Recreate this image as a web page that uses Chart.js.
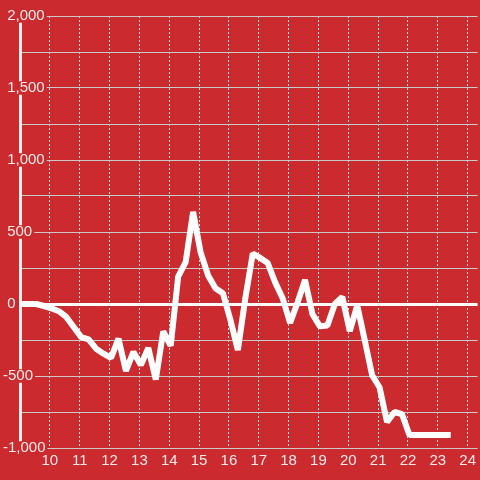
<!DOCTYPE html>
<html>
<head>
<meta charset="utf-8">
<script src="https://cdn.jsdelivr.net/npm/chart.js@4"></script>
<style>
  html, body { margin: 0; padding: 0; background: #cb2a2f; }
  #wrap { width: 480px; height: 480px; position: relative; }
</style>
</head>
<body>
<div id="wrap"><canvas id="c"></canvas></div>
<script>
// Times of readings (HH:MM)
const times = ['08:48','09:03','09:18','09:33','09:48','10:03','10:18','10:33','10:48','11:03',
  '11:18','11:33','11:48','12:03','12:18','12:33','12:48','13:03','13:18','13:33',
  '13:48','14:03','14:18','14:33','14:48','15:03','15:18','15:33','15:48','16:03',
  '16:18','16:33','16:48','17:03','17:18','17:33','17:48','18:03','18:18','18:33',
  '18:48','19:03','19:18','19:33','19:48','20:03','20:18','20:33','20:48','21:03',
  '21:18','21:33','21:48','22:03','22:18','22:33','22:48','23:03','23:26'];
// Series values
const values = [0,0,0,0,-14,-30,-50,-90,-160,-230,
  -245,-310,-345,-375,-240,-465,-333,-424,-306,-525,
  -190,-290,190,290,640,360,200,110,75,-110,
  -320,40,350,320,285,150,40,-132,10,167,
  -70,-155,-150,0,49,-188,-10,-250,-495,-580,
  -820,-750,-765,-910,-910,-910,-910,-910,-910];
// Axis tick values
const xTicks = [10,11,12,13,14,15,16,17,18,19,20,21,22,23,24];
const xMin = 9, xMax = 24.333;
const yMin = -1000, yMax = 2000, yStep = 250, yLabelStep = 500;

const RED = '#cb2a2f';
const toHours = s => { const [h, m] = s.split(':').map(Number); return h + m / 60; };
const points = times.map((t, i) => ({ x: toHours(t), y: values[i] }));

const bgPlugin = {
  id: 'bg',
  beforeDraw(chart) {
    const ctx = chart.ctx;
    ctx.save();
    ctx.fillStyle = RED;
    ctx.fillRect(0, 0, chart.width, chart.height);
    ctx.restore();
  }
};

new Chart(document.getElementById('c'), {
  type: 'line',
  data: {
    datasets: [{
      data: points,
      borderColor: '#ffffff',
      borderWidth: 6,
      borderJoinStyle: 'bevel',
      pointRadius: 0,
      tension: 0,
      fill: false
    }]
  },
  options: {
    responsive: true,
    maintainAspectRatio: false,
    animation: false,
    layout: { padding: { left: 3, top: 16, right: 0, bottom: 0 } },
    plugins: { legend: { display: false }, tooltip: { enabled: false } },
    scales: {
      x: {
        type: 'linear',
        min: xMin, max: xMax,
        afterBuildTicks: s => { s.ticks = xTicks.map(v => ({ value: v })); },
        afterFit: s => { s.height = 32; },
        grid: { color: '#e2e2e2', lineWidth: 1, drawTicks: false },
        border: { display: false, dash: [2, 2] },
        ticks: {
          color: 'rgba(255,255,255,0.9)',
          font: { family: '"Liberation Sans", Arial, sans-serif', size: 15 },
          padding: 4,
          maxRotation: 0,
          autoSkip: false
        }
      },
      y: {
        type: 'linear',
        min: yMin, max: yMax,
        afterFit: s => { s.width = 17; },
        grid: {
          drawTicks: false,
          color: c => (c.tick && c.tick.value === 0) ? '#ffffff' : '#c9c9c9',
          lineWidth: c => (c.tick && c.tick.value === 0) ? 3 : 1
        },
        border: { display: true, color: '#eeeeee', width: 3 },
        ticks: {
          stepSize: yStep,
          mirror: true,
          padding: -17,
          crossAlign: 'near',
          color: 'rgba(255,255,255,0.9)',
          font: { family: '"Liberation Sans", Arial, sans-serif', size: 15, lineHeight: 0.9 },
          showLabelBackdrop: true,
          backdropColor: RED,
          backdropPadding: { top: 0, bottom: 0, left: 0, right: 2 },
          callback: v => (v % yLabelStep === 0) ? ((v < 0 ? '' : ' ') + Number(v).toLocaleString('en-US')) : ''
        }
      }
    }
  },
  plugins: [bgPlugin]
});
</script>
</body>
</html>
